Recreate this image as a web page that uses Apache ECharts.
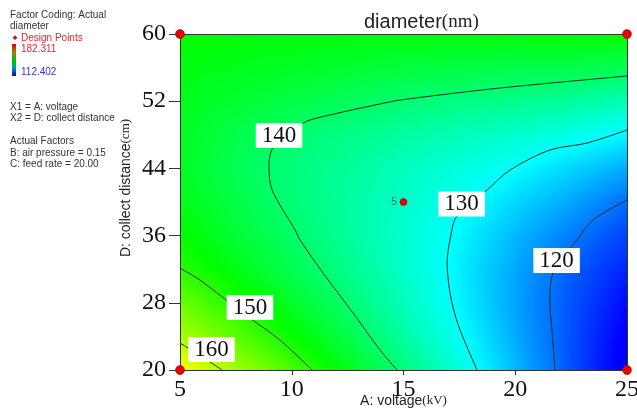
<!DOCTYPE html>
<html><head><meta charset="utf-8">
<script src="https://cdn.jsdelivr.net/npm/echarts@6/dist/echarts.min.js"></script>
<style>html,body{margin:0;padding:0;background:#fff}#c{width:637px;height:410px}</style>
</head><body><div id="c"></div>
<script>
// ---- data ----
const voltage = [5, 7.5, 10, 12.5, 15, 17.5, 20, 22.5, 25];      // A: voltage (kV) grid columns
const distance = [20, 24, 28, 32, 36, 40, 44, 48, 52, 56, 60];   // D: collect distance (cm) grid rows
const voltageTicks = [5, 10, 15, 20, 25];
const distanceTicks = [20, 28, 36, 44, 52, 60];
// diameter (nm) at each grid point, one array per distance row
const row20 = [164.7, 158.5, 152.3, 145.8, 139.2, 132.2, 125.1, 117.9, 110.8];
const row24 = [159.1, 153.5, 147.9, 142.3, 136.4, 130.4, 124.1, 117.9, 111.8];
const row28 = [154.6, 149.4, 144.6, 139.8, 134.6, 129.3, 123.6, 118.1, 113.0];
const row32 = [150.1, 146.0, 142.0, 137.9, 133.5, 128.9, 123.8, 118.9, 114.8];
const row36 = [147.5, 143.9, 140.4, 136.8, 133.2, 129.5, 125.1, 120.9, 117.0];
const row40 = [145.8, 142.5, 139.3, 136.5, 133.6, 130.8, 127.2, 123.8, 119.8];
const row44 = [145.0, 141.6, 139.1, 136.8, 134.5, 132.2, 129.9, 127.1, 124.2];
const row48 = [145.0, 142.4, 139.9, 138.2, 136.4, 134.7, 133.5, 131.5, 129.3];
const row52 = [145.5, 144.1, 142.6, 141.2, 139.8, 138.7, 137.8, 136.8, 134.9];
const row56 = [146.3, 145.6, 144.9, 144.1, 143.4, 142.9, 142.5, 142.4, 141.6];
const row60 = [147.3, 147.0, 146.8, 146.6, 146.6, 146.7, 146.9, 147.2, 147.6];
const diameterRows = [row20, row24, row28, row32, row36, row40, row44, row48, row52, row56, row60];
// contour lines [voltage, distance]
const contour120 = [[25,40.24],[23.48,37.86],[22.76,35.48],[21.69,31.55],[21.55,27.98],[21.64,24.76],[21.78,20]];
const contour130 = [[25,48.57],[23.21,47.02],[21.55,46.19],[19.77,43.81],[18.74,41.43],[17.39,38.33],[17.08,35.48],[16.95,32.74],[17.04,29.9],[17.21,27.5],[17.53,24.76],[18.29,20]];
const contour140 = [[25,55.0],[19.32,53.57],[14.84,52.14],[13.95,51.67],[11.71,50.36],[10.5,49.4],[9.16,46.43],[8.98,44.17],[9.12,41.43],[10.15,36.67],[10.37,35.48],[11.40,31.55],[12.74,26.79],[13.95,22.38],[14.71,20]];
const contour150 = [[5,32.14],[5.89,30.71],[7.01,28.45],[8.13,26.19],[9.47,23.57],[10.82,20.24],[10.91,20]];
const contour160 = [[5,23.21],[5.36,22.62],[6.34,20.95],[6.88,20]];
const contourLabels = [[9.43,47.92,'140'],[17.6,39.76,'130'],[21.85,33.04,'120'],[8.13,27.44,'150'],[6.41,22.44,'160']];
const designPoints = [[5,20],[5,60],[25,20],[25,60]];
const centerPoint = [[15,40,'5']];
const rangeMin = 112.402, rangeMax = 182.311;

// ---- chart ----
const palette = ['#0000ff','#00ffff','#00ff00','#ffff00','#ff0000'];
function colorOf(v){
  const t = Math.min(1, Math.max(0, (v - rangeMin) / (rangeMax - rangeMin)));
  return echarts.color.lerp(t, palette);
}
const cells = [];
for (let j = 0; j < distance.length - 1; j++) {
  for (let i = 0; i < voltage.length - 1; i++) {
    cells.push([voltage[i], distance[j], voltage[i+1], distance[j+1],
      diameterRows[j][i], diameterRows[j][i+1], diameterRows[j+1][i], diameterRows[j+1][i+1]]);
  }
}
function renderCell(params, api){
  const x0 = api.value(0), y0 = api.value(1), x1 = api.value(2), y1 = api.value(3);
  const a = api.value(4), b = api.value(5), c = api.value(6), d = api.value(7);
  const pBL = api.coord([x0, y0]), pTR = api.coord([x1, y1]);
  const K = 12, S = 6;
  const h = (pBL[1] - pTR[1]) / K;
  const xl = Math.floor(pBL[0]), xr = Math.ceil(pTR[0]);
  const children = [];
  for (let k = 0; k < K; k++) {
    const t = (k + 0.5) / K;
    const left = a + (c - a) * t, right = b + (d - b) * t;
    const stops = [];
    for (let s = 0; s <= S; s++) stops.push({offset: s / S, color: colorOf(left + (right - left) * s / S)});
    const yb = Math.round(pBL[1] - k * h), yt = Math.round(pBL[1] - (k + 1) * h);
    children.push({type: 'rect', silent: true,
      shape: {x: xl, y: yt, width: xr - xl, height: yb - yt},
      style: {fill: {type: 'linear', x: 0, y: 0, x2: 1, y2: 0, colorStops: stops}}});
  }
  return {type: 'group', children};
}
function contourSeries(data){
  return {type: 'line', data, smooth: 0.3, symbol: 'none', z: 3, silent: true,
    lineStyle: {color: '#1e2e22', width: 1}};
}
const serif = 'Liberation Serif', sans = 'Liberation Sans';
const txt = (text, x, y, fill) => ({type: 'text', x, y, silent: true,
  style: {text, fontSize: 10, fontFamily: sans, fill: fill || '#333', verticalAlign: 'middle'}});

const chart = echarts.init(document.getElementById('c'), null, {renderer: 'canvas'});
chart.setOption({
  animation: false,
  title: {text: '{a|diameter}{b|(nm)}', left: 359, top: 7,
    textStyle: {fontWeight: 'normal', rich: {a: {fontFamily: sans, fontSize: 20, color: '#222', fontWeight: 'normal'}, b: {fontFamily: serif, fontSize: 19, color: '#222', fontWeight: 'normal'}}}},
  grid: {left: 180, right: 10, top: 34, bottom: 40, outerBoundsMode: 'none', containLabel: false},
  xAxis: [
    {type: 'value', min: 5, max: 25, interval: 5, z: 10,
     name: '{a|A: voltage}{b|(kV)}', nameLocation: 'middle', nameGap: 24, nameMoveOverlap: false,
     nameTextStyle: {lineHeight: 14, rich: {a: {fontFamily: sans, fontSize: 14, color: '#222', lineHeight: 14}, b: {fontFamily: serif, fontSize: 13, color: '#222', lineHeight: 14}}},
     axisLine: {show: true, onZero: false, lineStyle: {color: '#333', width: 1}},
     axisTick: {show: true, length: 5, customValues: voltageTicks, lineStyle: {color: '#333'}},
     axisLabel: {customValues: voltageTicks, fontFamily: serif, fontSize: 24, color: '#111', margin: 8},
     splitLine: {show: false}},
    {type: 'value', min: 5, max: 25, position: 'top', z: 10,
     axisLine: {show: true, onZero: false, lineStyle: {color: '#333', width: 1}},
     axisTick: {show: false}, axisLabel: {show: false}, splitLine: {show: false}}
  ],
  yAxis: [
    {type: 'value', min: 20, max: 60, z: 10,
     name: '{a|D: collect distance}{b|(cm)}', nameLocation: 'middle', nameGap: 47, nameMoveOverlap: false,
     nameTextStyle: {padding: [0, 0, 0, 28], rich: {a: {fontFamily: sans, fontSize: 14, color: '#222'}, b: {fontFamily: serif, fontSize: 13, color: '#222'}}},
     axisLine: {show: true, onZero: false, lineStyle: {color: '#333', width: 1}},
     axisTick: {show: true, length: 11, customValues: distanceTicks, lineStyle: {color: '#333'}},
     axisLabel: {customValues: distanceTicks, fontFamily: serif, fontSize: 24, color: '#111', margin: 14},
     splitLine: {show: false}},
    {type: 'value', min: 20, max: 60, position: 'right', z: 10,
     axisLine: {show: true, onZero: false, lineStyle: {color: '#333', width: 1}},
     axisTick: {show: false}, axisLabel: {show: false}, splitLine: {show: false}}
  ],
  series: [
    {type: 'custom', data: cells, renderItem: renderCell, encode: {x: [0, 2], y: [1, 3]}, z: 1, silent: true},
    contourSeries(contour120), contourSeries(contour130), contourSeries(contour140),
    contourSeries(contour150), contourSeries(contour160),
    {type: 'scatter', data: contourLabels, symbolSize: 1, z: 5, silent: true,
     itemStyle: {color: 'rgba(0,0,0,0)', opacity: 1},
     label: {show: true, position: 'inside', formatter: p => p.value[2], backgroundColor: '#fff',
       padding: [1, 6, 0, 6], fontFamily: serif, fontSize: 23, color: '#111', lineHeight: 24}},
    {type: 'scatter', data: designPoints, symbolSize: 9, z: 20, clip: false, silent: true,
     itemStyle: {color: '#e60000', borderColor: '#990000', borderWidth: 0.5, opacity: 1}},
    {type: 'scatter', data: centerPoint, symbolSize: 7, z: 20, silent: true,
     itemStyle: {color: '#e60000', borderColor: '#990000', borderWidth: 0.5, opacity: 1},
     label: {show: true, position: 'left', distance: 3, formatter: p => p.value[2], fontFamily: sans, fontSize: 10, color: '#2f6d6d'}}
  ],
  graphic: [
    txt('Factor Coding: Actual', 10, 15),
    txt('diameter', 10, 26),
    {type: 'polygon', silent: true, shape: {points: [[15, 35.3], [17.4, 37.7], [15, 40.1], [12.6, 37.7]]}, style: {fill: '#c8102a'}},
    txt('Design Points', 21, 38, '#e3262e'),
    {type: 'rect', silent: true, shape: {x: 12, y: 44, width: 4, height: 32},
     style: {fill: {type: 'linear', x: 0, y: 0, x2: 0, y2: 1, colorStops: [
       {offset: 0, color: '#e00000'}, {offset: 0.25, color: '#a08000'}, {offset: 0.5, color: '#00c000'},
       {offset: 0.75, color: '#00a0a0'}, {offset: 1, color: '#0000e0'}]}}},
    txt('182.311', 21, 49, '#e3262e'),
    txt('112.402', 21, 72, '#3535e0'),
    txt('X1 = A: voltage', 10, 107),
    txt('X2 = D: collect distance', 10, 118),
    txt('Actual Factors', 10, 141),
    txt('B: air pressure = 0.15', 10, 153),
    txt('C: feed rate = 20.00', 10, 164)
  ]
});
</script></body></html>
